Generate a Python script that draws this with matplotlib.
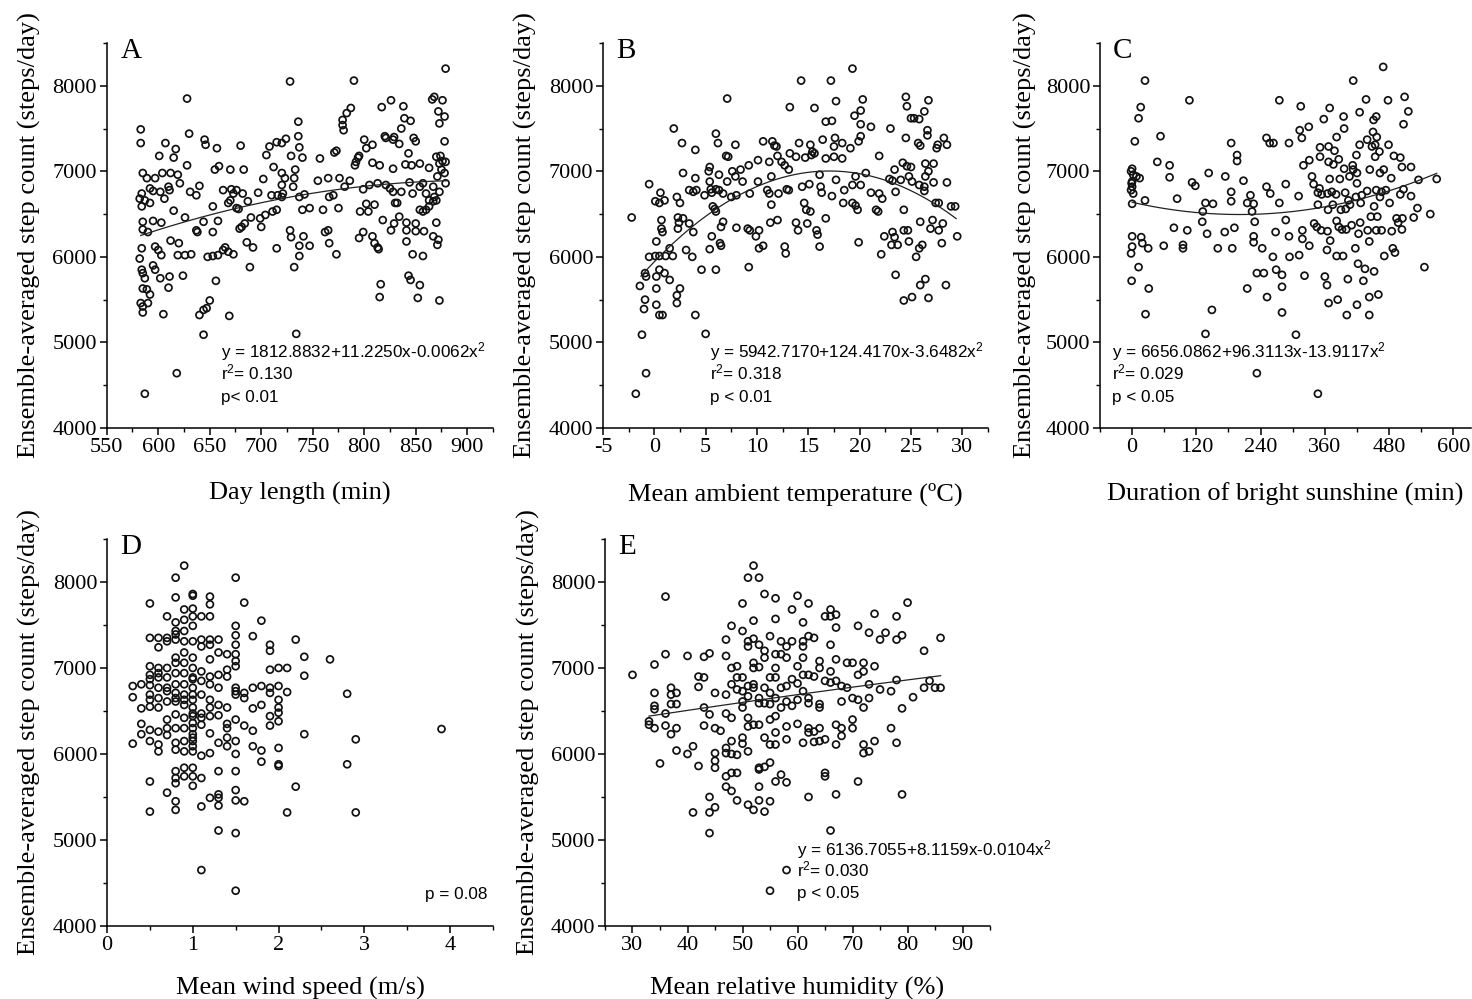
import numpy as np
import matplotlib
matplotlib.use("Agg")
import matplotlib.pyplot as plt
from matplotlib.ticker import MultipleLocator

plt.rcParams['font.family'] = ['Liberation Serif', 'DejaVu Serif']
plt.rcParams['axes.unicode_minus'] = False
plt.rcParams['mathtext.fontset'] = 'custom'
plt.rcParams['mathtext.rm'] = 'Liberation Sans'
plt.rcParams['mathtext.it'] = 'Liberation Sans:italic'
plt.rcParams['mathtext.bf'] = 'Liberation Sans:bold'

# ---------------- data ----------------
day_length_pts = [
(879,8200),(728,8050),(790,8060),(628,7850),(817,7750),(826,7830),(838,7760),(866,7840),(868,7870),(876,7830),(872,7700),(878,7640),(873,7560),(878,7350),(787,7740),(783,7680),(779,7600),(779,7540),(780,7480),(736,7580),(736,7410),(737,7280),(740,7160),(729,7180),(583,7490),(630,7440),(583,7330),(645,7370),(646,7310),(657,7270),(680,7300),(724,7380),(720,7330),(715,7340),(708,7290),(705,7190),(607,7330),(617,7260),(615,7160),(601,7180),(628,7070),(655,7020),(659,7060),(670,7020),(683,7020),(712,7050),(720,6980),(723,6920),(733,7020),(732,6920),(757,7150),(773,7240),(771,7220),(794,7160),(792,7110),(791,7070),(795,7180),(800,7370),(802,7270),(808,7310),(808,7100),(815,7070),(820,7410),(821,7390),(828,7370),(834,7320),(829,7400),(836,7500),(839,7620),(845,7590),(848,7390),(850,7350),(843,7210),(840,7080),(846,7070),(854,7090),(863,7040),(870,7170),(874,7180),(876,7120),(879,7110),(873,7090),(875,7020),(878,6980),(879,6860),(871,6940),(828,7030),
(585,6980),(589,6920),(597,6920),(604,6980),(612,6980),(619,6960),(621,6860),(610,6820),(611,6780),(602,6760),(595,6770),(592,6800),(584,6740),(582,6680),(587,6660),(631,6760),(637,6720),(640,6830),(663,6780),(671,6790),(676,6780),(682,6740),(673,6740),(670,6660),(668,6630),(676,6570),(687,6650),(697,6750),(702,6910),(710,6720),(716,6720),(720,6840),(721,6740),(720,6700),(731,6820),(737,6700),(742,6730),(755,6890),(765,6920),(776,6920),(786,6890),(770,6720),(781,6820),(799,6790),(805,6840),(813,6860),(821,6840),(825,6800),(828,6760),(836,6760),(844,6870),(847,6740),(854,6820),(857,6860),(860,6740),(867,6820),(868,6700),(873,6760),(863,6660),
(584,6590),(592,6630),(606,6680),(615,6540),(626,6460),(644,6410),(653,6590),(658,6420),(678,6560),(681,6350),(684,6390),(690,6460),(699,6450),(700,6350),(704,6490),(711,6530),(715,6550),(740,6550),(747,6570),(760,6550),(766,6700),(775,6570),(796,6530),(804,6530),(802,6620),(810,6610),(830,6630),(832,6630),(854,6550),(857,6530),(860,6550),(863,6590),(867,6650),(870,6660),(870,6400),(850,6390),(841,6400),(829,6390),(818,6430),(826,6310),(841,6310),(850,6300),(858,6300),(867,6240),(872,6200),(871,6140),
(585,6410),(585,6320),(595,6420),(603,6400),(590,6290),(637,6310),(638,6290),(653,6290),(679,6330),(728,6310),(729,6230),(741,6240),(737,6130),(747,6130),(762,6290),(765,6310),(766,6160),(773,6030),(795,6220),(799,6290),(808,6240),(810,6160),(813,6110),(814,6090),(841,6180),(847,6030),(857,6010),(834,6470),
(584,6100),(597,6120),(600,6080),(603,6020),(612,6190),(620,6160),(619,6020),(626,6020),(632,6030),(648,6000),(653,6010),(658,6020),(663,6080),(665,6110),(668,6060),(673,6030),(686,6170),(692,6110),(715,6100),(737,6010),(582,5980),
(584,5850),(585,5810),(595,5900),(597,5850),(602,5750),(611,5770),(610,5640),(624,5780),(587,5750),(585,5630),(589,5620),(592,5560),(583,5460),(585,5420),(590,5460),(585,5350),(605,5330),(640,5320),(644,5380),(647,5400),(650,5490),(656,5720),(669,5310),(689,5880),(732,5880),(816,5680),(815,5530),(843,5780),(845,5730),(854,5670),(852,5520),(873,5490),(644,5090),(734,5100),(618,4640),(587,4400)]

temperature_pts = [
(19.3,8200),(14.3,8060),(17.2,8060),(7.1,7850),(17.7,7820),(20.3,7840),(24.5,7870),(24.6,7760),(26.7,7830),(13.2,7750),(15.6,7740),(25.0,7620),(25.3,7620),(25.8,7610),(26.3,7700),(16.7,7580),(17.3,7590),(19.5,7650),(20.1,7710),(20.1,7550),(21.1,7520),(23.0,7500),(26.6,7480),(26.6,7420),(28.2,7390),(27.6,7310),(1.9,7500),(6.0,7440),(2.7,7330),(4.0,7250),(6.2,7330),(7.9,7310),(10.6,7350),(11.5,7350),(11.7,7300),(11.9,7290),(14.1,7330),(15.2,7310),(15.4,7230),(15.3,7190),(16.4,7370),(17.6,7390),(18.3,7330),(17.5,7290),(19.1,7270),(19.9,7350),(20.1,7410),(21.9,7180),(24.5,7390),(25.7,7330),(25.9,7300),(27.5,7270),(28.5,7310),(13.2,7210),(13.8,7170),(14.7,7160),(15.6,7210),(16.7,7150),(17.5,7170),(18.3,7150),(7.0,7180),(7.2,7170),(5.4,7050),(5.3,7000),(11.2,7110),(12.0,7180),(12.4,7110),(13.1,7020),(12.7,7070),(10.1,7130),(9.2,7070),(8.4,7020),(24.2,7100),(24.6,7060),(25.0,7050),(23.4,7020),(26.4,7090),(27.2,7090),(26.7,7000),
(-0.5,6850),(0.6,6750),(2.8,6980),(2.2,6700),(2.5,6630),(3.4,6780),(3.8,6760),(4.0,6920),(4.1,6780),(4.9,6720),(5.5,6790),(5.6,6750),(6.0,6790),(6.3,6780),(6.7,6740),(5.4,6880),(6.3,6960),(7.1,6880),(7.6,7000),(7.9,6940),(8.6,6880),(8.0,6720),(7.5,6700),(9.3,6740),(10.1,6880),(11.0,6780),(11.2,6740),(11.4,6940),(12.1,6740),(12.9,6790),(13.1,6780),(14.4,6820),(15.1,6850),(16.1,6960),(16.2,6820),(16.3,6750),(17.3,6710),(17.7,6900),(18.5,6780),(19.3,6840),(19.6,6940),(20.1,6840),(20.6,6980),(21.1,6750),(21.9,6740),(22.2,6680),(22.9,6910),(23.2,6890),(23.5,6760),(24.0,6900),(24.8,6940),(25.1,6880),(25.8,6840),(26.3,6820),(26.4,6940),(27.2,6870),(26.3,6770),(28.5,6870),(27.4,6630),(27.7,6630),(28.9,6590),(29.3,6590),
(-2.2,6460),(0.1,6650),(0.5,6630),(1.0,6660),(0.7,6430),(0.7,6330),(0.8,6290),(2.3,6460),(2.4,6400),(2.8,6450),(3.4,6390),(3.8,6290),(2.3,6330),(5.7,6590),(5.9,6560),(6.0,6530),(6.7,6410),(6.5,6350),(5.6,6240),(6.4,6160),(6.5,6130),(5.4,6090),(8.0,6340),(9.1,6330),(9.3,6310),(9.9,6240),(10.2,6310),(10.2,6100),(10.6,6130),(11.4,6610),(11.3,6400),(12.0,6430),(12.7,6120),(12.8,6040),(13.8,6400),(14.0,6310),(14.6,6630),(14.8,6550),(15.2,6530),(14.9,6390),(15.8,6310),(15.9,6260),(16.1,6120),(16.7,6450),(18.4,6630),(19.3,6630),(19.6,6600),(19.9,6170),(19.8,6550),(21.6,6550),(21.8,6530),(22.1,6030),(22.4,6240),(23.2,6290),(23.1,6140),(23.7,6140),(23.4,6230),(24.3,6550),(24.3,6310),(24.7,6310),(24.8,6180),(25.5,6000),(25.8,6100),(26.1,6140),(25.9,6410),(26.9,6330),(27.1,6430),(27.7,6310),(28.1,6390),(28.0,6160),(29.5,6240),
(0.2,6180),(-0.5,6000),(0.1,6010),(0.5,6010),(1.1,6010),(1.5,6100),(1.8,6010),(3.1,6080),(3.7,6000),(-0.9,5810),(-0.8,5770),(-1.4,5660),(0.2,5770),(0.5,5850),(1.0,5810),(1.5,5730),(0.2,5630),(2.5,5630),(2.2,5550),(2.2,5460),(0.2,5440),(0.5,5320),(0.8,5320),(-0.9,5500),(-1.0,5390),(4.6,5850),(6.0,5850),(4.0,5320),(5.0,5100),(9.2,5880),(23.5,5790),(24.3,5490),(25.1,5530),(25.9,5670),(26.4,5740),(26.7,5520),(28.4,5670),(-1.2,5090),(-0.8,4640),(-1.8,4400)]

sunshine_pts = [
(0,7030),(-2,7000),(2,6960),(-1,6860),(0,6820),(-2,6780),(2,6740),(0,6880),(8,6940),(14,6920),(0,6620),(0,6240),(0,6120),(-2,6040),(17,6230),(19,6160),(30,6100),(12,5880),(-1,5720),(31,5630),(25,5330),(24,8060),(16,7750),(12,7620),(5,7350),(24,6660),(53,7410),(47,7110),(70,7070),(70,6930),(84,6680),(78,6340),(59,6130),(95,6140),(95,6100),(103,6310),(107,7830),(112,6870),(118,6830),(131,6410),(132,6530),(137,6630),(140,6270),(143,6980),(151,6620),(149,5380),(137,5100),(160,6100),(173,6290),(174,6940),(185,7330),(185,6760),(185,6650),(187,6100),(191,6340),(196,7190),(196,7120),(208,6890),(215,5630),(221,6720),(215,6630),(227,6620),(224,6530),(229,6410),(227,6240),(227,6170),(233,5810),(246,5810),(233,4640),(243,6100),(252,5530),(251,6820),(258,6740),(251,7390),(257,7330),(264,7330),(263,6000),(268,6290),(269,5850),(280,5790),(275,6630),(275,7830),(280,5650),(280,5350),(287,6850),(287,6430),(293,7330),(293,6240),(294,6000),(306,5090),(311,6710),(312,6020),(313,7480),(315,7760),(317,7390),(318,6310),(318,6210),(320,7070),(322,5780),(330,7520),(331,7130),(331,6130),(336,6940),(339,6850),(340,6390),(345,6350),(347,6750),(347,6610),(347,4400),(350,6800),(351,7280),(351,7170),(353,6310),(354,6730),(358,7610),(360,5770),(364,5670),(364,6080),(365,6300),(367,5460),(365,6740),(366,6550),(367,7290),(367,7110),(369,7740),(369,6910),(370,6190),(373,6760),(375,6610),(376,7080),(378,7240),(381,6730),(382,7400),(382,6420),(382,6010),(384,5500),(386,6350),(386,7140),(388,6910),(390,6550),(392,6320),(394,6010),(395,7640),(396,7500),(396,7030),(398,6750),(399,6560),(400,6320),(401,5320),(403,5740),(404,6660),(406,6940),(407,6610),(410,6370),(412,7070),(413,8060),(413,7020),(417,6100),(418,6700),(419,7190),(420,6980),(420,6860),(420,5440),(422,5920),(423,6270),(425,7690),(425,7310),(426,6400),(427,6630),(429,6720),(432,5720),(435,5860),(437,7840),(439,7370),(439,6770),(440,6310),(443,6180),(443,5530),(443,5320),(444,7020),(446,6470),(448,7290),(450,7460),(451,7600),(452,6590),(452,5830),(454,7310),(454,7170),(456,7640),(456,6780),(456,6310),(457,7400),(458,6470),(460,5560),(462,7230),(463,6700),(463,6980),(466,6760),(466,6310),(470,7020),(471,6010),(469,8220),(474,6780),(478,7830),(479,7310),(481,6630),(484,6920),(485,6300),(487,6100),(489,7180),(491,6050),(494,6450),(497,6400),(501,6730),(501,7160),(504,7050),(504,6320),(505,6450),(507,6790),(509,7870),(507,7550),(516,7700),(521,7050),(521,6710),(526,6460),(533,6570),(535,6900),(546,5880),(557,6500),(569,6910)]

wind_speed_cols = {
0.3: [6790, 6660, 6120],
0.4: [6810, 6530, 6350, 6230],
0.5: [7750, 7350, 7020, 6920, 6870, 6800, 6690, 6630, 6550, 6280, 6150, 5680, 5330],
0.6: [7350, 7240, 7000, 6940, 6890, 6770, 6650, 6540, 6260, 6110, 6030],
0.7: [7600, 7350, 7310, 7000, 6890, 6770, 6730, 6610, 6400, 6300, 6220, 5550],
0.8: [8050, 7820, 7530, 7430, 7390, 7330, 7120, 7060, 6940, 6810, 6710, 6650, 6610, 6460, 6300, 6130, 6050, 5800, 5720, 5660, 5450, 5350],
0.9: [8190, 7680, 7560, 7430, 7310, 7180, 7060, 6940, 6810, 6690, 6630, 6570, 6420, 6300, 6150, 6030, 5840, 5740],
1.0: [7860, 7840, 7690, 7600, 7490, 7310, 7120, 7000, 6890, 6870, 6770, 6690, 6630, 6540, 6470, 6440, 6360, 6300, 6230, 6190, 6150, 6090, 6030, 5840, 5740, 5630],
1.1: [7600, 7330, 7250, 6960, 6850, 6690, 6470, 6420, 6340, 5980, 5720, 5390, 4650],
1.2: [7830, 7740, 7600, 7330, 7270, 7100, 6900, 6810, 6630, 6540, 6440, 6240, 6010, 5490],
1.3: [7330, 7180, 6920, 6770, 6570, 6450, 6130, 5800, 5530, 5490, 5400, 5110],
1.4: [7160, 6980, 6900, 6540, 6350, 6300, 6190, 6090],
1.5: [8050, 7490, 7380, 7270, 7160, 7080, 7020, 6770, 6730, 6690, 6400, 6150, 6000, 5800, 5580, 5460, 5080, 4410],
1.6: [7760, 6710, 6650, 6330, 5450],
1.7: [7370, 6770, 6530, 6270, 6090],
1.8: [7550, 6790, 6570, 6040, 5910],
1.9: [7270, 7200, 6980, 6770, 6710, 6440, 6330],
2.0: [7000, 6790, 6630, 6540, 6480, 6380, 6070, 5880, 5860],
2.1: [7000, 6720, 5320],
2.2: [7330, 5620],
2.3: [7130, 6910, 6230],
2.6: [7100],
2.8: [6700, 5880],
2.9: [6170, 5320],
3.9: [6290],
}

humidity_pts = [
(30,6920),(34,6710),(34,6560),(34,6520),(34,7040),(33,6380),(33,6340),(34,6300),(35,5890),(36,7830),(36,7160),(36,6470),(36,6330),(37,6770),(37,6690),(37,6580),(37,6230),(38,6710),(38,6580),(38,6300),(38,6040),(40,7140),(40,6000),(41,6090),(41,5320),(42,6900),(42,6780),(42,5860),(43,6890),(43,7130),(43,6540),(43,6330),(44,7170),(44,6460),(44,5500),(44,5320),(44,5080),(45,6710),(45,6300),(45,6010),(45,5920),(45,5840),(45,5380),(46,6270),(47,7330),(47,7140),(47,6690),(47,6470),(47,6070),(47,6010),(47,5740),(47,5620),(48,7490),(48,7000),(48,6810),(48,6420),(48,6150),(48,6000),(48,5780),(48,5570),(49,7020),(49,6890),(49,6750),(49,5990),(49,5780),(49,5460),(50,7750),(50,7430),(50,6890),(50,6730),(50,6610),(50,6540),(50,6190),(50,6120),(51,8050),(51,7310),(51,7250),(51,6790),(51,6670),(51,6420),(51,6320),(51,6030),(51,5410),(52,8190),(52,7550),(52,7340),(52,7060),(52,7000),(52,6810),(52,6770),(52,6340),(52,5350),(53,8050),(53,7270),(53,7010),(53,6650),(53,6590),(53,6340),(53,5840),(53,5820),(53,5620),(53,5460),(54,7860),(54,7200),(54,7120),(54,6770),(54,6590),(54,6190),(54,5850),(54,5330),(55,7370),(55,6890),(55,6710),(55,6580),(55,6400),(55,6110),(55,5900),(55,5450),(55,4410),(56,7810),(56,7570),(56,7160),(56,7000),(56,6890),(56,6650),(56,6440),(56,6250),(56,6110),(56,5680),(57,7310),(57,7160),(57,6770),(57,6540),(57,5760),(58,7250),(58,7120),(58,6790),(58,6610),(58,6320),(58,6170),(58,5670),(58,4650),(59,7680),(59,7310),(59,6870),(59,6560),(60,7840),(60,7020),(60,6820),(60,6630),(60,6350),(61,7530),(61,7310),(61,7250),(61,7120),(61,6920),(61,6730),(61,6130),(62,7750),(62,7370),(62,6920),(62,6650),(62,6590),(62,6300),(62,6250),(62,5500),(63,7350),(63,6900),(63,6260),(63,6140),(64,7080),(64,7000),(64,6580),(64,6540),(64,6300),(64,6150),(65,7600),(65,6850),(65,6170),(65,5780),(65,5740),(66,7680),(66,7600),(66,7270),(66,6960),(66,6830),(66,5110),(67,7620),(67,7470),(67,7100),(67,6850),(67,6340),(67,6110),(67,5530),(68,6790),(68,6610),(68,6300),(68,6210),(69,7060),(69,6770),(70,7060),(70,6650),(70,6400),(70,6300),(71,7490),(71,6920),(71,6630),(71,5680),(72,7060),(72,6960),(72,6540),(72,6110),(72,6010),(73,7410),(73,6810),(73,6650),(73,6030),(74,7630),(74,7020),(74,6150),(75,7330),(75,6750),(76,7410),(77,6730),(77,6300),(78,7600),(78,7330),(78,6860),(78,6130),(79,7380),(79,6530),(79,5530),(80,7760),(81,6660),(83,7200),(83,6770),(84,6850),(85,6770),(86,6770),(86,7350)]

# fitted curves
coef_a = [1812.8832, 11.2250, -0.0062]      # printed equation, panel A
range_a = [583, 880]
coef_b = [5942.7170, 124.4170, -3.6482]     # printed equation, panel B
range_b = [-1.3, 29.4]
curve_c_x = [0, 127, 239, 357, 482, 569]    # curve, panel C
curve_c_y = [6630, 6528, 6496, 6594, 6742, 6996]
curve_e_x = [33, 60, 86]                    # curve, panel E
curve_e_y = [6440, 6690, 6910]

letters = ["A", "B", "C", "D", "E"]
xlabels = ["Day length (min)", "Mean ambient temperature (ºC)",
           "Duration of bright sunshine (min)", "Mean wind speed (m/s)",
           "Mean relative humidity (%)"]
ylabel = "Ensemble-averaged step count (steps/day)"
eq_texts = [
    ["y = 1812.8832+11.2250x-0.0062x$^2$", "r$^2$= 0.130", "p< 0.01"],
    ["y = 5942.7170+124.4170x-3.6482x$^2$", "r$^2$= 0.318", "p < 0.01"],
    ["y = 6656.0862+96.3113x-13.9117x$^2$", "r$^2$= 0.029", "p < 0.05"],
    ["p = 0.08"],
    ["y = 6136.7055+8.1159x-0.0104x$^2$", "r$^2$= 0.030", "p < 0.05"],
]

# ---------------- figure ----------------
fig = plt.figure(figsize=(14.72, 9.99), dpi=100)
rects = [
    [0.0725, 0.5716, 0.2624, 0.3854],
    [0.4096, 0.5716, 0.2616, 0.3854],
    [0.7473, 0.5716, 0.2520, 0.3854],
    [0.0727, 0.0731, 0.2622, 0.3874],
    [0.4110, 0.0731, 0.2616, 0.3874],
]
xlims = [(550, 925), (-5, 32.5), (-60, 633), (0, 4.5), (25, 95)]
xmaj = [50, 5, 120, 1, 10]
xmin = [25, 2.5, 60, 0.5, 5]
xlabel_y = [-0.141, -0.141, -0.141, -0.131, -0.131]

wind_pts = [(k, v) for k, vals in wind_speed_cols.items() for v in vals]
datasets = [day_length_pts, temperature_pts, sunshine_pts, wind_pts, humidity_pts]

ec = '#111111'
axes = []
for i in range(5):
    ax = fig.add_axes(rects[i])
    axes.append(ax)
    pts = np.array(datasets[i], dtype=float)
    ax.scatter(pts[:, 0], pts[:, 1], s=25, facecolors='none', edgecolors=ec,
               linewidths=1.25, zorder=3)
    ax.set_xlim(*xlims[i])
    ax.set_ylim(4000, 8500)
    ax.xaxis.set_major_locator(MultipleLocator(xmaj[i]))
    ax.xaxis.set_minor_locator(MultipleLocator(xmin[i]))
    ax.yaxis.set_major_locator(MultipleLocator(1000))
    ax.yaxis.set_minor_locator(MultipleLocator(500))
    for s in ['top', 'right']:
        ax.spines[s].set_visible(False)
    for s in ['left', 'bottom']:
        ax.spines[s].set_linewidth(1.1)
    ax.tick_params(which='major', direction='out', length=5, width=1.1,
                   labelsize=16, pad=2)
    ax.tick_params(which='minor', direction='out', length=3, width=1.0)
    ax.set_xlabel(xlabels[i], fontsize=19)
    ax.set_ylabel(ylabel, fontsize=19)
    ax.yaxis.set_label_coords(-0.17, 0.5)
    ax.xaxis.set_label_coords(0.5, xlabel_y[i])
    ax.text(0.035, 0.962, letters[i], transform=ax.transAxes, fontsize=21,
            va='baseline', ha='left')

# curves
xa = np.linspace(range_a[0], range_a[1], 200)
axes[0].plot(xa, coef_a[0] + coef_a[1] * xa + coef_a[2] * xa ** 2, color='#222', lw=0.9, zorder=4)
xb = np.linspace(range_b[0], range_b[1], 200)
axes[1].plot(xb, coef_b[0] + coef_b[1] * xb + coef_b[2] * xb ** 2, color='#222', lw=0.9, zorder=4)
pc = np.polyfit(curve_c_x, curve_c_y, 2)
xc = np.linspace(curve_c_x[0], curve_c_x[-1], 200)
axes[2].plot(xc, np.polyval(pc, xc), color='#222', lw=0.9, zorder=4)
pe = np.polyfit(curve_e_x, curve_e_y, 2)
xe = np.linspace(curve_e_x[0], curve_e_x[-1], 200)
axes[4].plot(xe, np.polyval(pe, xe), color='#222', lw=0.9, zorder=4)

# equation annotations
eq_pos = [(0.296, [0.184, 0.127, 0.068]),
          (0.278, [0.184, 0.127, 0.068]),
          (0.032, [0.184, 0.127, 0.068]),
          None,
          (0.499, [0.183, 0.127, 0.072])]
for i, pos in enumerate(eq_pos):
    if pos is None:
        continue
    x0, ys = pos
    for t, y in zip(eq_texts[i], ys):
        axes[i].text(x0, y, t, transform=axes[i].transAxes, fontsize=12.3,
                     family='Liberation Sans', va='baseline', ha='left', zorder=5)
axes[3].text(0.987, 0.07, eq_texts[3][0], transform=axes[3].transAxes,
             fontsize=12.3, family='Liberation Sans', va='baseline', ha='right')

fig.savefig("out.png", dpi=100)
